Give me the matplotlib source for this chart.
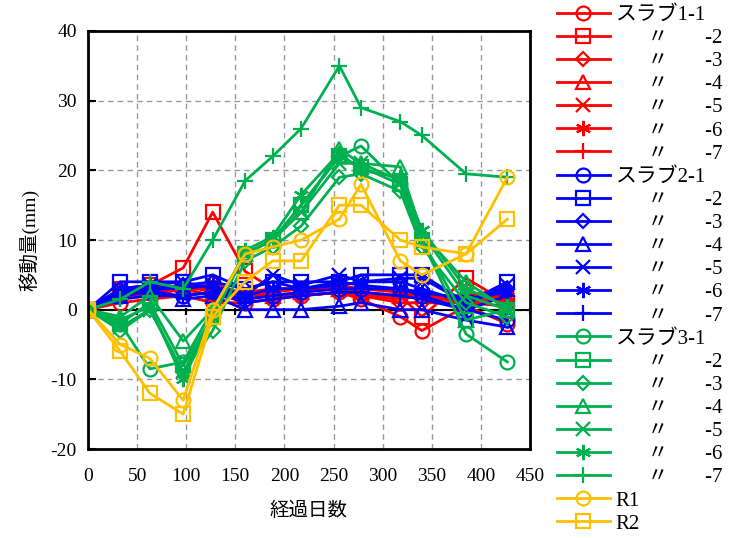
import matplotlib
matplotlib.use("Agg")
import matplotlib.pyplot as plt

days = [0, 33, 63, 97, 127, 160, 188, 217, 256, 278, 318, 340, 385, 427]

# slab 1 (red)
s1_1 = [0, 1, 1.5, 2, 1, 1, 1.5, 2, 2.5, 1.5, -1, -3, 0.5, -2]
s1_2 = [0, 3, 3.5, 6, 14, 5.5, 3, 3, 3, 2, 2, -1, 4.5, 1]
s1_3 = [0, 2, 2.5, 3, 2, 2, 2, 2, 2.5, 2, 1, 1, 1, 0.5]
s1_4 = [0, 2.5, 3, 3.5, 2.5, 2, 2, 2.5, 3, 2.5, 2, 2, 2, 3]
s1_5 = [0, 2, 3, 3, 3, 2.5, 3, 3, 3.5, 3, 3, 2, 1, 2]
s1_6 = [0, 3, 3.5, 3, 4, 2, 2.5, 3, 3, 3, 2.5, 2, 2, 2]
s1_7 = [0, 2, 2, 3, 2, 1.5, 2, 2, 2.5, 2, 1.5, 2, 1, 1.5]

# slab 2 (blue)
s2_1 = [0, 2, 2.5, 2, 2.5, 1.5, 2, 2.5, 3, 3, 3, 2, 0, -1.5]
s2_2 = [0, 4, 4, 4, 5, 3, 4, 4, 4, 5, 5, 5, 1, 4]
s2_3 = [0, 3, 3, 3.5, 4, 3, 4, 3, 3.5, 4, 4, 3, 1, 3]
s2_4 = [0, 2, 3, 1.5, 2, 0, 0, 0, 0.5, 1, 0, 0, -1.5, -2.5]
s2_5 = [0, 3, 3.5, 4, 3, 2, 5, 3.5, 5, 4, 4.5, 4.5, 1, 3.5]
s2_6 = [0, 2.5, 3, 3, 3.5, 2, 3, 3, 4, 3.5, 3, 2.5, 1.5, 2.5]
s2_7 = [0, 1.5, 2, 2, 2.5, 1, 1.5, 2, 2.5, 2.5, 2, 1.5, 0, 2]

# slab 3 (green)
s3_1 = [0, -2, -8.5, -7.5, 0, 8, 10, 15, 22, 23.5, 18, 10, -3.5, -7.5]
s3_2 = [0, -2, 1, -8, -1, 8, 10, 15, 22, 20.5, 18, 10, -1.5, 0]
s3_3 = [0, -3, 0, -9, -3, 7, 9, 12, 19, 19.5, 17, 9, 1, -1]
s3_4 = [0, -1, 2, -4.5, 0, 8, 10, 14, 23, 21, 20.5, 11, 4, 0]
s3_5 = [0, -2.5, 0, -9, -1, 8, 10, 14, 21, 21, 18.5, 11, 2, 0]
s3_6 = [0, -1.5, 0.5, -10, -1, 8.5, 10.5, 16.5, 22.5, 20, 19, 11.5, 3, 0.5]
s3_7 = [0, 1.5, 4, 3, 10, 18.5, 22, 26, 35, 29, 27, 25, 19.5, 19]

# reference points (yellow)
r1 = [0, -5, -7, -13, 0, 8, 9, 10, 13, 18, 7, 5, 8, 19]
r2 = [0, -6, -12, -15, -1, 4, 7, 7, 15, 15, 10, 9, 8, 13]

ditto = "\u3003"
sub = [f"      {ditto}       -{i}" for i in range(2, 8)]
labels = ["スラブ1-1"] + sub + ["スラブ2-1"] + sub + ["スラブ3-1"] + sub + ["R1", "R2"]
series = [s1_1, s1_2, s1_3, s1_4, s1_5, s1_6, s1_7,
          s2_1, s2_2, s2_3, s2_4, s2_5, s2_6, s2_7,
          s3_1, s3_2, s3_3, s3_4, s3_5, s3_6, s3_7,
          r1, r2]

markers = ['o', 's', 'D', '^', 'x', (6, 2, 0), '+']
msizes = [10, 10, 7, 10, 10, 11, 12]
colors = ['#FF0000', '#0000FF', '#00B050']

plt.rcParams['font.family'] = ['Liberation Serif', 'Noto Sans CJK JP']
plt.rcParams['axes.unicode_minus'] = False

fig = plt.figure(figsize=(7.35, 5.38), dpi=100)
ax = fig.add_axes([0.1197, 0.1654, 0.6013, 0.777])

for k, (lab, ys) in enumerate(zip(labels, series)):
    if k < 21:
        c = colors[k // 7]
        m = markers[k % 7]
        ms = msizes[k % 7]
    else:
        c = '#FFC000'
        m = markers[k - 21]
        ms = msizes[k - 21]
    ax.plot(days, ys, color=c, marker=m, markersize=ms, markerfacecolor='none',
            markeredgewidth=1.6, linewidth=2, label=lab)

ax.set_xlim(0, 450)
ax.set_ylim(-20, 40)
ax.set_xticks(range(0, 451, 50))
ax.set_yticks(range(-20, 41, 10))
ax.grid(True, linestyle=(0, (4, 3)), color='#999999', linewidth=1)
ax.set_axisbelow(True)
ax.axhline(0, color='black', linewidth=1.5, zorder=1.5)
ax.vlines(range(50, 451, 50), -0.7, 0.3, color='black', linewidth=1.5, zorder=1.5)
for sp in ax.spines.values():
    sp.set_linewidth(2)
ax.tick_params(axis='y', direction='in', length=6, width=1.5, labelsize=14, pad=8)
ax.tick_params(axis='x', length=0, labelsize=14, pad=14)

ax.set_xlabel("経過日数", fontsize=14, labelpad=12)
ax.set_ylabel("移動量(mm)", fontsize=14, labelpad=8)

ax.legend(loc='upper left', bbox_to_anchor=(0.757, 0.992), bbox_transform=fig.transFigure,
          frameon=False, fontsize=15, handlelength=2.5, handletextpad=0.3,
          labelspacing=0.17, borderpad=0.05, borderaxespad=0)

fig.savefig("out.png", dpi=100)
